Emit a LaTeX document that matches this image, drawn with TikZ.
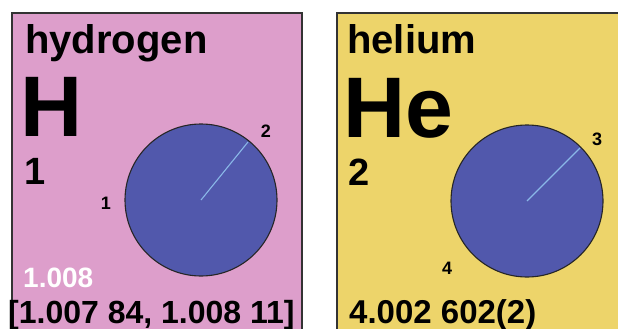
\documentclass[tikz,border=0pt]{standalone}
\usepackage{fontspec}
\setmainfont{Liberation Sans}
\definecolor{hpink}{HTML}{DD9ECB}
\definecolor{heyellow}{HTML}{EDD46A}
\definecolor{orbblue}{HTML}{5158AC}
\definecolor{raylight}{HTML}{8AB8E8}
\definecolor{edgegray}{HTML}{333333}
\tikzset{
  card/.style={draw=edgegray, line width=1.8pt},
  orb/.style={draw=black!85, line width=1.1pt, fill=orbblue},
  ray/.style={draw=raylight, line width=1.1pt},
  txt/.style={inner sep=0pt, anchor=base west, font=\bfseries},
  lbl/.style={inner sep=0pt, font=\bfseries\fontsize{18}{18}\selectfont},
}
\begin{document}
\begin{tikzpicture}[x=1pt,y=-1pt]
\useasboundingbox (0,0) rectangle (618,329);
\fill[white] (0,0) rectangle (618,329);
\clip (0,0) rectangle (618,329);
% hydrogen card
\draw[card, fill=hpink] (12,13) rectangle (302,345);
\node[txt, font=\bfseries\fontsize{40}{40}\selectfont] (hname) at (25,53) {hydrogen};
\node[txt, font=\bfseries\fontsize{86}{86}\selectfont] (hsym) at (20,136) {H};
\node[txt, font=\bfseries\fontsize{38}{38}\selectfont] (hnum) at (24,184) {1};
\node[txt, text=white, font=\bfseries\fontsize{28}{28}\selectfont] (hmass) at (23,287) {1.008};
\node[txt, font=\bfseries\fontsize{32}{32}\selectfont] (hrange) at (8,323) {[1.007 84, 1.008 11]};
\node[orb, circle, minimum size=152pt, inner sep=0pt] (hcirc) at (201,200) {};
\coordinate (hc) at (201,200);
\coordinate (hedge) at (248,142);
\draw[ray] (hc) -- (hedge);
\node[lbl] (hl2) at (266,131) {2};
\node[lbl] (hl1) at (106,203) {1};
% helium card
\draw[card, fill=heyellow] (337,13) rectangle (640,345);
\node[txt, font=\bfseries\fontsize{40}{40}\selectfont] (hename) at (347,54) {helium};
\node[txt, font=\bfseries\fontsize{86}{86}\selectfont] (hesym) at (343,137) {He};
\node[txt, font=\bfseries\fontsize{38}{38}\selectfont] (henum) at (348,185) {2};
\node[txt, font=\bfseries\fontsize{33}{33}\selectfont] (hemass) at (349,323) {4.002 602(2)};
\node[orb, circle, minimum size=152pt, inner sep=0pt] (hecirc) at (527,201) {};
\coordinate (hec) at (527,201);
\coordinate (heedge) at (580,148);
\draw[ray] (hec) -- (heedge);
\node[lbl] (hel3) at (597,139) {3};
\node[lbl] (hel4) at (447,268) {4};
\end{tikzpicture}
\end{document}
